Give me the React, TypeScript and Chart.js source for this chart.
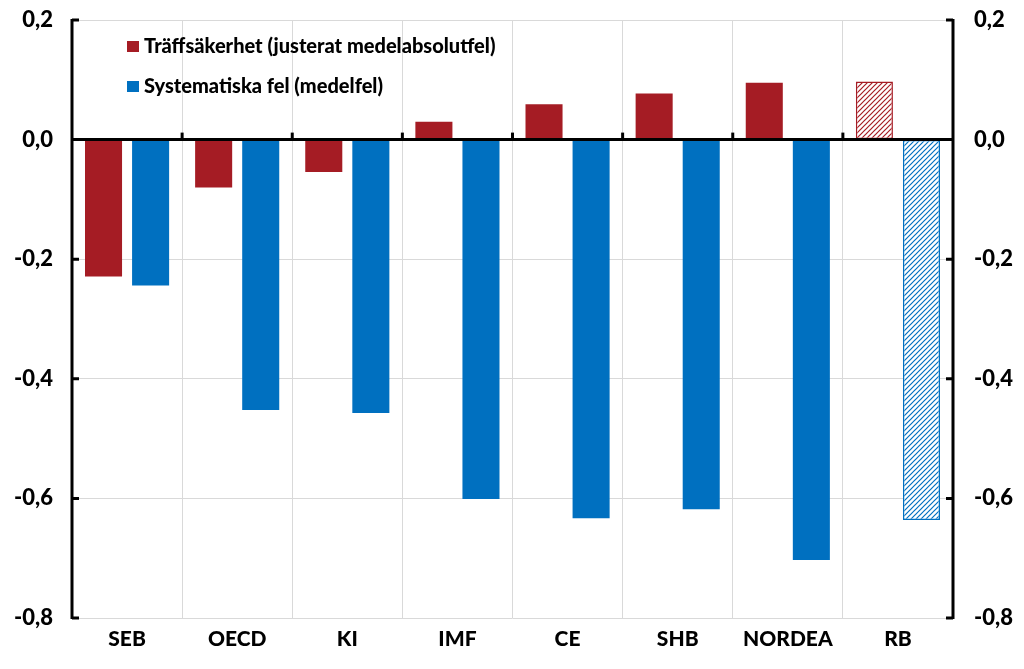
import React, { useEffect, useRef } from "react";
import { Chart, registerables } from "chart.js";

Chart.register(...registerables);

const categories = ["SEB", "OECD", "KI", "IMF", "CE", "SHB", "NORDEA", "RB"];
const traffsakerhet = [-0.229, -0.08, -0.054, 0.03, 0.059, 0.077, 0.095, 0.097];
const systematiska = [-0.244, -0.452, -0.457, -0.601, -0.633, -0.618, -0.703, -0.636];
const hatchedIndex = [7];
const seriesLabels = ["Träffsäkerhet (justerat medelabsolutfel)", "Systematiska fel (medelfel)"];
const yMin = -0.8;
const yMax = 0.2;
const yStep = 0.2;

const RED = "#A51C24";
const BLUE = "#0070C0";
const GRID = "#d9d9d9";
const FONT = "Lato, 'Open Sans', sans-serif";
const WEIGHT = 900;

function makeHatch(color: string): CanvasPattern | string {
  const c = document.createElement("canvas");
  const s = 5;
  c.width = s;
  c.height = s;
  const ctx = c.getContext("2d");
  if (!ctx) return color;
  ctx.fillStyle = "#ffffff";
  ctx.fillRect(0, 0, s, s);
  ctx.strokeStyle = color;
  ctx.lineWidth = 1.2;
  ctx.beginPath();
  ctx.moveTo(0, s);
  ctx.lineTo(s, 0);
  ctx.moveTo(-1, 1);
  ctx.lineTo(1, -1);
  ctx.moveTo(s - 1, s + 1);
  ctx.lineTo(s + 1, s - 1);
  ctx.stroke();
  return ctx.createPattern(c, "repeat") || color;
}

const fmt = (v: number) => {
  const r = Math.round(v * 10) / 10;
  return (r === 0 ? 0 : r).toFixed(1).replace(".", ",");
};

export default function App() {
  const ref = useRef<HTMLCanvasElement | null>(null);

  useEffect(() => {
    document.body.style.margin = "0";
    const canvas = ref.current;
    if (!canvas) return;
    const redHatch = makeHatch(RED);
    const blueHatch = makeHatch(BLUE);

    const bg = (color: string, hatch: any) =>
      categories.map((_, i) => (hatchedIndex.includes(i) ? hatch : color));
    const bw = categories.map((_, i) => (hatchedIndex.includes(i) ? 1.5 : 0));

    const axesPlugin = {
      id: "customAxes",
      afterDatasetsDraw(chart: any) {
        const { ctx, chartArea, scales } = chart;
        const y = scales.y;
        const x = scales.x;
        ctx.save();
        ctx.strokeStyle = "#000";
        ctx.lineWidth = 3;
        ctx.lineCap = "butt";
        const y0 = y.getPixelForValue(0);
        ctx.beginPath();
        ctx.moveTo(chartArea.left, y0);
        ctx.lineTo(chartArea.right, y0);
        ctx.stroke();
        const n = categories.length;
        for (let i = 1; i < n; i++) {
          const px = (x.getPixelForValue(i - 1) + x.getPixelForValue(i)) / 2;
          ctx.beginPath();
          ctx.moveTo(px, y0);
          ctx.lineTo(px, y0 - 7);
          ctx.stroke();
        }
        ctx.beginPath();
        ctx.moveTo(chartArea.left, chartArea.top - 1);
        ctx.lineTo(chartArea.left, chartArea.bottom + 1);
        ctx.moveTo(chartArea.right, chartArea.top - 1);
        ctx.lineTo(chartArea.right, chartArea.bottom + 1);
        ctx.stroke();
        for (let v = yMin; v <= yMax + 1e-9; v += yStep) {
          const py = y.getPixelForValue(v);
          ctx.beginPath();
          ctx.moveTo(chartArea.left, py);
          ctx.lineTo(chartArea.left + 7, py);
          ctx.moveTo(chartArea.right, py);
          ctx.lineTo(chartArea.right - 7, py);
          ctx.stroke();
        }
        const items = [
          { label: seriesLabels[0], color: RED },
          { label: seriesLabels[1], color: BLUE },
        ];
        ctx.font = `${WEIGHT} 20px ${FONT}`;
        ctx.textBaseline = "middle";
        ctx.textAlign = "left";
        items.forEach((it, i) => {
          const cy = 47 + i * 40;
          ctx.fillStyle = it.color;
          ctx.fillRect(127, cy - 6, 12, 11);
          ctx.fillStyle = "#000";
          ctx.fillText(it.label, 144, cy);
        });
        ctx.restore();
      },
    };

    const yFit = (w: number) => (scale: any) => {
      scale.width = w;
      scale.paddingTop = 0;
      scale.paddingBottom = 0;
    };

    const chart = new Chart(canvas, {
      type: "bar",
      data: {
        labels: categories,
        datasets: [
          {
            label: seriesLabels[0],
            data: traffsakerhet,
            backgroundColor: bg(RED, redHatch),
            borderColor: RED,
            borderWidth: bw,
            borderSkipped: false,
            yAxisID: "y",
          },
          {
            label: seriesLabels[1],
            data: systematiska,
            backgroundColor: bg(BLUE, blueHatch),
            borderColor: BLUE,
            borderWidth: bw,
            borderSkipped: false,
            yAxisID: "y",
          },
        ],
      },
      options: {
        responsive: false,
        animation: false,
        categoryPercentage: 0.855,
        barPercentage: 0.787,
        layout: { padding: { top: 20, left: 0, right: 0, bottom: 0 } },
        plugins: {
          legend: { display: false },
          tooltip: { enabled: false },
        },
        scales: {
          x: {
            grid: { color: GRID, lineWidth: 1, offset: true, drawTicks: false },
            border: { display: false },
            ticks: {
              color: "#000",
              font: { family: FONT, size: 21, weight: WEIGHT as any },
              padding: 9,
              maxRotation: 0,
            },
            afterFit(scale: any) {
              scale.height = 51;
              scale.paddingLeft = 0;
              scale.paddingRight = 0;
            },
          },
          y: {
            position: "left",
            min: yMin,
            max: yMax,
            grid: { color: GRID, lineWidth: 1, drawTicks: false },
            border: { display: false },
            ticks: {
              stepSize: yStep,
              color: "#000",
              font: { family: FONT, size: 22, weight: WEIGHT as any },
              padding: 19,
              callback: (v: any) => fmt(Number(v)),
            },
            afterFit: yFit(72),
          },
          y2: {
            position: "right",
            min: yMin,
            max: yMax,
            grid: { display: false, drawTicks: false },
            border: { display: false },
            ticks: {
              stepSize: yStep,
              color: "#000",
              font: { family: FONT, size: 22, weight: WEIGHT as any },
              padding: 21,
              callback: (v: any) => fmt(Number(v)),
            },
            afterFit: yFit(71),
          },
        },
      },
      plugins: [axesPlugin],
    });
    return () => chart.destroy();
  }, []);

  return (
    <div style={{ position: "fixed", left: 0, top: 0, width: 1024, height: 669, background: "#fff" }}>
      <canvas ref={ref} width={1024} height={669} style={{ width: 1024, height: 669, display: "block" }} />
    </div>
  );
}
